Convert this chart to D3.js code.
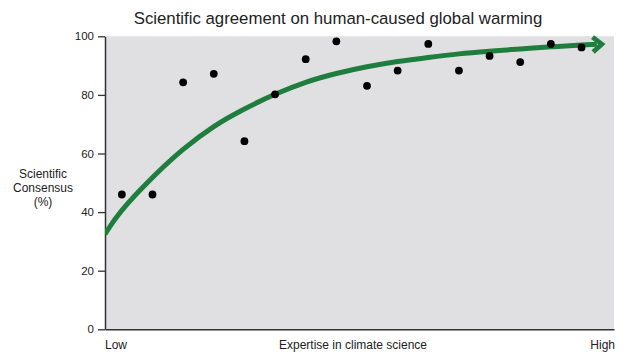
<!DOCTYPE html>
<html>
<head>
<meta charset="utf-8">
<script src="https://cdn.jsdelivr.net/npm/d3@7/dist/d3.min.js"></script>
<style>
  html, body { margin: 0; padding: 0; background: #fff; }
  svg { display: block; font-family: "Liberation Sans", Arial, Helvetica, sans-serif; }
</style>
</head>
<body>
<svg id="chart" width="640" height="360"></svg>
<script>
// ---- data ----
const title = "Scientific agreement on human-caused global warming";
const yTicks = [0, 20, 40, 60, 80, 100];
const yLabelLines = ["Scientific", "Consensus", "(%)"];
const xLabelLow = "Low";
const xLabelMid = "Expertise in climate science";
const xLabelHigh = "High";

// studies ordered by expertise (index 1..16) and their consensus (%)
const studyIndex = [1, 2, 3, 4, 5, 6, 7, 8, 9, 10, 11, 12, 13, 14, 15, 16];
const studyConsensus = [46, 46, 84.3, 87.2, 64.2, 80.2, 92.2, 98.3, 83.1, 88.3, 97.4, 88.3, 93.3, 91.2, 97.4, 96.2];

// trend curve
const curveX = [0.45, 1, 2, 3, 4, 5, 6, 7, 8, 9, 10, 11, 12, 13, 14, 15, 16, 16.5];
const curveY = [32.5, 40.6, 51.8, 61.4, 69.2, 75.2, 80.2, 84.3, 87.3, 89.6, 91.4, 92.8, 94.0, 94.9, 95.7, 96.4, 97.0, 97.25];

// ---- layout ----
const svg = d3.select("#chart");
const pLeft = 105, pRight = 614, pTop = 36.3, pBottom = 329.3;
const green = "#1f7d3e";

const x = d3.scaleLinear().domain([0.45, 17.06]).range([pLeft, pRight]);
const y = d3.scaleLinear().domain([0, 100]).range([pBottom, pTop]);

// plot background
svg.append("rect")
  .attr("x", pLeft).attr("y", pTop)
  .attr("width", pRight - pLeft).attr("height", pBottom - pTop)
  .attr("fill", "#e0e0e2");

// title
svg.append("text")
  .attr("x", 338).attr("y", 24)
  .attr("text-anchor", "middle")
  .attr("font-size", 16.8)
  .attr("fill", "#222")
  .text(title);

// y axis
const yAxis = d3.axisLeft(y).tickValues(yTicks).tickSize(7).tickSizeOuter(0).tickPadding(4);
const gy = svg.append("g").attr("transform", `translate(${pLeft},0)`).call(yAxis);
gy.select(".domain").attr("stroke", "#333").attr("stroke-width", 1.5);
gy.selectAll(".tick line").attr("stroke", "#333").attr("stroke-width", 1.3);
gy.selectAll(".tick text").attr("font-size", 11.5).attr("fill", "#222")
  .attr("font-family", "Liberation Sans, Arial, sans-serif");

// x axis (line only)
const xAxis = d3.axisBottom(x).tickValues([]).tickSizeOuter(0);
const gx = svg.append("g").attr("transform", `translate(0,${pBottom})`).call(xAxis);
gx.select(".domain").attr("stroke", "#333").attr("stroke-width", 1.5);

// y label
svg.append("text")
  .attr("text-anchor", "middle")
  .attr("font-size", 12)
  .attr("fill", "#222")
  .selectAll("tspan")
  .data(yLabelLines)
  .join("tspan")
  .attr("x", 43)
  .attr("y", (d, i) => 178 + i * 14)
  .text(d => d);

// x labels
svg.append("text").attr("x", pLeft).attr("y", 349)
  .attr("font-size", 12).attr("fill", "#222").text(xLabelLow);
svg.append("text").attr("x", 353).attr("y", 349).attr("text-anchor", "middle")
  .attr("font-size", 12).attr("fill", "#222").text(xLabelMid);
svg.append("text").attr("x", 615).attr("y", 349).attr("text-anchor", "end")
  .attr("font-size", 12).attr("fill", "#222").text(xLabelHigh);

// arrow marker
const defs = svg.append("defs");
defs.append("marker")
  .attr("id", "arrow")
  .attr("markerUnits", "userSpaceOnUse")
  .attr("viewBox", "-12 -12 24 24")
  .attr("markerWidth", 24).attr("markerHeight", 24)
  .attr("refX", 0).attr("refY", 0)
  .attr("orient", "auto")
  .append("path")
  .attr("d", "M-4,-7.5 L5,0 L-4,7.5")
  .attr("fill", "none")
  .attr("stroke", green)
  .attr("stroke-width", 4.8)
  .attr("stroke-linejoin", "miter")
  .attr("stroke-miterlimit", 10);

// trend curve
const curveData = curveX.map((v, i) => [v, curveY[i]]);
defs.append("clipPath").attr("id", "plotclip").append("rect")
  .attr("x", pLeft).attr("y", 0).attr("width", 640 - pLeft).attr("height", pBottom);

svg.append("path")
  .datum(curveData)
  .attr("d", d3.line().x(d => x(d[0])).y(d => y(d[1])).curve(d3.curveNatural))
  .attr("fill", "none")
  .attr("stroke", green)
  .attr("stroke-width", 5)
  .attr("clip-path", "url(#plotclip)")
  .attr("marker-end", "url(#arrow)");

// points
svg.append("g")
  .selectAll("circle")
  .data(studyIndex.map((v, i) => [v, studyConsensus[i]]))
  .join("circle")
  .attr("cx", d => x(d[0]))
  .attr("cy", d => y(d[1]))
  .attr("r", 3.9)
  .attr("fill", "#000");
</script>
</body>
</html>
